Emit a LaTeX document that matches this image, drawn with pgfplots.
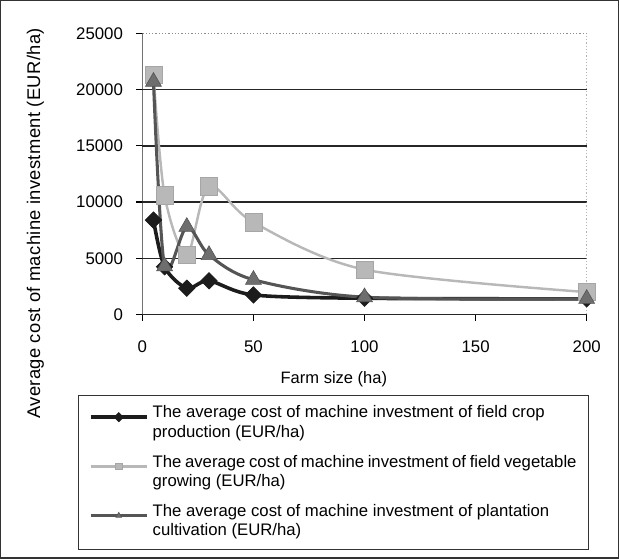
\documentclass[border=0pt]{standalone}
\usepackage{fontspec}
\setmainfont{Liberation Sans}
\newfontfamily\spacedfont[LetterSpace=2]{Liberation Sans}
\usepackage{pgfplots}
\pgfplotsset{compat=1.18}

\definecolor{cropc}{HTML}{1C1C1C}
\definecolor{vegc}{HTML}{B8B8B8}
\definecolor{plantc}{HTML}{555555}

\begin{document}
\begin{tikzpicture}[x=1pt,y=1pt]
% chart area frame
\draw[line width=0.7pt, black!80] (-69.5,-119.5) rectangle (233.5,154);
\begin{axis}[
    at={(0,0)}, anchor=south west,
    scale only axis, width=218pt, height=138pt,
    xmin=0, xmax=200, ymin=0, ymax=25000,
    xtick={0,50,...,200}, ytick={0,5000,...,25000},
    scaled y ticks=false,
    xtick pos=bottom, ytick pos=left,
    tick align=outside, major tick length=3pt,
    tick style={black, line width=0.6pt},
    ymajorgrids, grid style={black!85, line width=0.8pt},
    axis line style={draw=none},
    /pgf/number format/assume math mode=true,
    /pgf/number format/set thousands separator={},
    ticklabel style={font=\fontsize{8.25}{9}\selectfont},
    xticklabel style={yshift=-6.5pt},
    yticklabel style={xshift=-3pt},
    xlabel={Farm size (ha)},
    xlabel style={at={(axis description cs:0.431,-0.228)}, anchor=center,
        font=\fontsize{8.1}{9}\selectfont},
    ylabel={\spacedfont Average cost of machine investment (EUR/ha)},
    ylabel style={at={(axis description cs:-0.241,0.324)}, anchor=center,
        inner sep=0pt, font=\fontsize{9}{10}\selectfont},
    legend style={at={(axis description cs:-0.1445,-0.286)}, anchor=north west,
        draw=black!80, line width=0.6pt, inner xsep=5pt, inner ysep=4pt,
        row sep=5pt, column sep=1pt,
        font=\fontsize{8.2}{9.5}\selectfont,
        nodes={inner sep=1pt, text depth=}},
    legend cell align=left,
    legend image code/.code={%
        \draw[mark repeat=2, mark phase=2, #1, mark size=1.6pt]
        plot coordinates {(0pt,3pt) (13.75pt,3pt) (27.5pt,3pt)};},
]
\addplot[cropc, line width=1.75pt, smooth, mark=square*,
    mark size=2.85pt, mark options={rotate=45, fill=cropc, line width=0.3pt}]
    coordinates {(5,8400) (10,4250) (20,2350) (30,3000) (50,1750) (100,1450) (200,1400)};
\addlegendentry{\parbox[t]{208pt}{The average cost of machine investment of field crop\\production (EUR/ha)}}

\addplot[vegc, line width=1.2pt, smooth, mark=square*,
    mark size=4.2pt, mark options={fill=vegc, draw=vegc!90!black, line width=0.3pt}]
    coordinates {(5,21300) (10,10600) (20,5300) (30,11400) (50,8200) (100,4000) (200,2000)};
\addlegendentry{\parbox[t]{208pt}{The average cost of machine investment of field vegetable\\growing (EUR/ha)}}

\addplot[plantc, line width=1.5pt, smooth, mark=triangle*,
    mark size=4.5pt, mark options={fill=plantc!85!white, line width=0.3pt}]
    coordinates {(5,20700) (10,4300) (20,7800) (30,5300) (50,3100) (100,1550) (200,1400)};
\addlegendentry{\parbox[t]{208pt}{The average cost of machine investment of plantation\\cultivation (EUR/ha)}}

% plot area border: light dotted top and right, dark left and bottom
\draw[white, line width=1pt] (rel axis cs:0,1) -- (rel axis cs:1,1);
\draw[black!45, densely dotted, line width=0.6pt] (rel axis cs:0,1) -- (rel axis cs:1,1) -- (rel axis cs:1,0);
\draw[black!85, line width=0.8pt] (rel axis cs:0,1) -- (rel axis cs:0,0) -- (rel axis cs:1,0);
\end{axis}
\end{tikzpicture}
\end{document}
